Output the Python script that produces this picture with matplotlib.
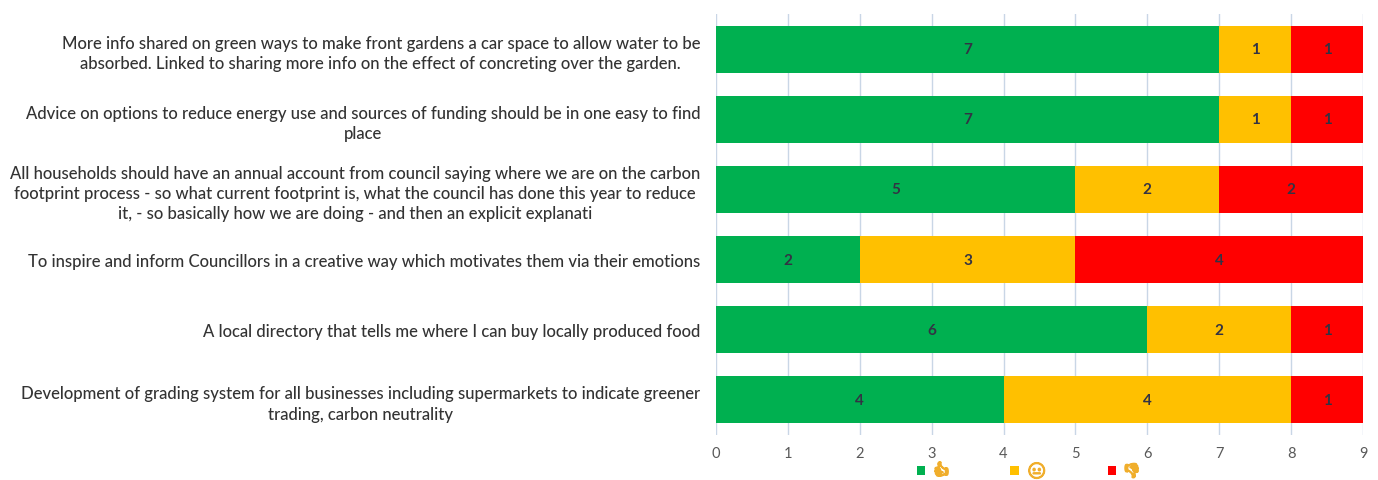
#!/usr/bin/env python
# -*- coding: utf-8 -*-

import matplotlib

matplotlib.use("Agg")
import matplotlib.patheffects as pe
import matplotlib.pyplot as plt
import numpy as np

questions = [
    "More info shared on green ways to make front gardens a car space to allow water to be\n"
    "absorbed. Linked to sharing more info on the effect of concreting over the garden.",
    "Advice on options to reduce energy use and sources of funding should be in one easy to find\n"
    "place",
    "All households should have an annual account from council saying where we are on the carbon\n"
    "footprint process - so what current footprint is, what the council has done this year to reduce\n"
    "it, - so basically how we are doing - and then an explicit explanati",
    "To inspire and inform Councillors in a creative way which motivates them via their emotions",
    "A local directory that tells me where I can buy locally produced food",
    "Development of grading system for all businesses including supermarkets to indicate greener\n"
    "trading, carbon neutrality",
]
thumbs_up = [7, 7, 5, 2, 6, 4]
neutral = [1, 1, 2, 3, 2, 4]
thumbs_down = [1, 1, 2, 4, 1, 1]
series_labels = ["\U0001F44D", "\U0001F610", "\U0001F44E"]
series_colors = ["#00B050", "#FFC000", "#FF0000"]
x_ticks = list(range(10))

plt.rcParams["font.family"] = ["Lato", "DejaVu Sans"]

fig = plt.figure(figsize=(13.78, 4.81), dpi=100)
ax = fig.add_axes([716 / 1378, 1 - 436 / 481, (1363 - 716) / 1378, (436 - 15) / 481])

y = np.arange(len(questions))
left = np.zeros(len(questions))
for values, label, color in zip([thumbs_up, neutral, thumbs_down], series_labels, series_colors):
    bars = ax.barh(y, values, left=left, height=0.67, color=color, label=label, zorder=2)
    ax.bar_label(bars, label_type="center", color="#333344", fontsize=11, fontweight="bold")
    left = left + np.array(values)

ax.set_xlim(0, 9)
ax.set_ylim(5.5, -0.5)
ax.set_xticks(x_ticks)
ax.set_yticks(y)
ax.set_yticklabels(questions, multialignment="center", fontsize=12, fontweight="medium",
                   color="#333333", linespacing=1.32)
ax.tick_params(axis="y", length=0, pad=11.5)
ax.tick_params(axis="x", length=0, pad=8, labelsize=10.5, labelcolor="#595959")
ax.grid(axis="x", color="#C9D6E6", linewidth=1, zorder=0)
for spine in ax.spines.values():
    spine.set_visible(False)

leg = ax.legend(
    loc="center", bbox_to_anchor=(1028 / 1378, 1 - 473 / 481), bbox_transform=fig.transFigure,
    ncol=3, frameon=False, prop={"family": ["Noto Sans Symbols 2", "Noto Emoji", "DejaVu Sans"], "size": 11},
    handlelength=0.55, handleheight=0.55, columnspacing=4.0, handletextpad=0.55,
    borderpad=0,
)
# glyphs are outlines only, thicken them so they read like the filled originals
for txt in leg.get_texts():
    txt.set_color("#F0AE2C")
    txt.set_path_effects([pe.withStroke(linewidth=1.2, foreground="#F0AE2C")])

fig.savefig("out.png", dpi=100)
